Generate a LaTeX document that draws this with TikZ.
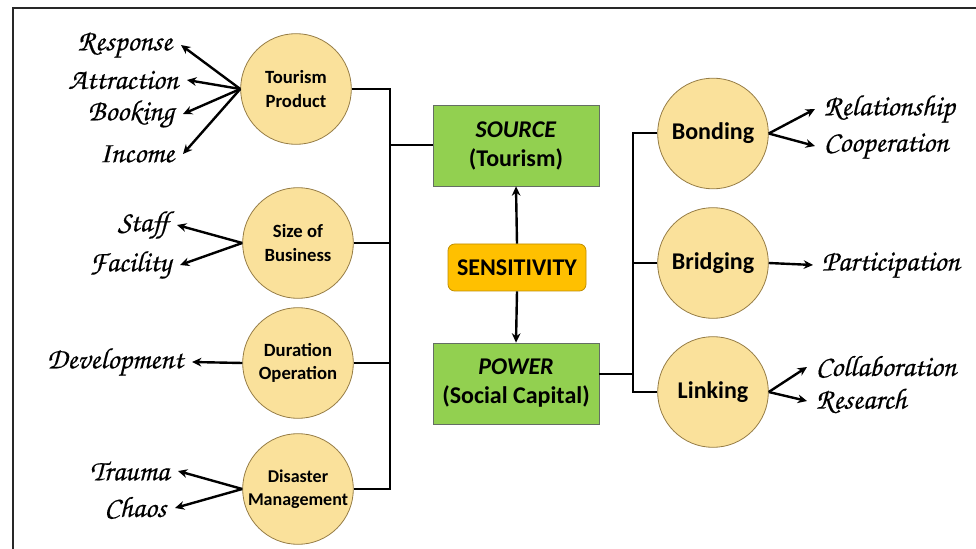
\documentclass[tikz,border=0pt]{standalone}
\usepackage{fontspec}
\setmainfont{Carlito}
\newfontfamily\scr[FakeBold=0.4]{TeX Gyre Chorus}
\usetikzlibrary{arrows.meta}

\definecolor{circfill}{RGB}{250,225,155}
\definecolor{circline}{RGB}{150,125,70}
\definecolor{boxgreen}{RGB}{146,208,80}
\definecolor{boxline}{RGB}{100,110,100}
\definecolor{sensfill}{RGB}{255,192,0}
\definecolor{sensline}{RGB}{190,140,0}
\definecolor{framecol}{RGB}{40,40,40}

\tikzset{
  circ/.style={circle, draw=circline, fill=circfill, line width=0.6pt,
    minimum size=83pt, inner sep=0pt, align=center,
    font=\bfseries\fontsize{14}{17.5}\selectfont},
  bigcirc/.style={circ, font=\bfseries\fontsize{18}{21}\selectfont},
  greenbox/.style={rectangle, draw=boxline, fill=boxgreen, line width=0.6pt,
    minimum width=124.5pt, minimum height=60.75pt, inner sep=0pt, align=center,
    font=\bfseries\fontsize{18}{21.75}\selectfont},
  sensbox/.style={rectangle, rounded corners=5pt, draw=sensline, fill=sensfill,
    line width=0.6pt, minimum width=103.5pt, minimum height=35.25pt, inner sep=0pt,
    font=\bfseries\fontsize{18}{21}\selectfont},
  lab/.style={inner xsep=6.5pt, inner ysep=0pt, font=\scr\fontsize{22}{24}\selectfont},
  llab/.style={lab, anchor=east},
  rlab/.style={lab, anchor=west},
  wire/.style={line width=1.5pt, black},
  arr/.style={line width=1.8pt, black, -{Stealth[length=7pt,width=6.5pt]}},
}

\begin{document}
\begin{tikzpicture}[x=0.75pt,y=-0.75pt]
\useasboundingbox (0,0) rectangle (976,549);

% open frame along the top and left edges
\draw[framecol, line width=1.5pt] (13,549) -- (13,8) -- (976,8);

% left column of factors
\node[circ] (tour) at (296,89) {Tourism\\Product};
\node[circ] (size) at (298,243) {Size of\\Business};
\node[circ] (dur)  at (298,363) {Duration\\Operation};
\node[circ, font=\bfseries\fontsize{13.5}{17}\selectfont] (dis) at (298,489) {Disaster\\Management};

% central boxes
\node[greenbox] (source) at (516,145.5) {\textit{SOURCE}\\(Tourism)};
\node[sensbox]  (sens)   at (517,267.5) {SENSITIVITY};
\node[greenbox] (power)  at (516,383.5) {\textit{POWER}\\(Social Capital)};

% right column of capital types
\node[bigcirc] (bond)   at (713,133.5) {Bonding};
\node[bigcirc] (bridge) at (713,263)   {Bridging};
\node[bigcirc] (link)   at (713,392)   {Linking};

% outcome labels, left
\node[llab] (resp)   at (181,45)  {Response};
\node[llab] (attr)   at (187,80)  {Attraction};
\node[llab] (book)   at (183,114) {Booking};
\node[llab] (inc)    at (183,154) {Income};
\node[llab] (staff)  at (177,225) {Staff};
\node[llab] (fac)    at (180,265) {Facility};
\node[llab] (dev)    at (192,362) {Development};
\node[llab] (trauma) at (178,471) {Trauma};
\node[llab] (chaos)  at (175,508) {Chaos};

% outcome labels, right
\node[rlab] (rel)  at (815,109) {Relationship};
\node[rlab] (coop) at (815,146) {Cooperation};
\node[rlab] (part) at (813,265) {Participation};
\node[rlab] (coll) at (807,367) {Collaboration};
\node[rlab] (res)  at (807,401) {Research};

% bus lines joining the factors to SOURCE
\coordinate (lbus) at (390,145.5);
\draw[wire] (tour.east) -| (lbus);
\draw[wire] (size.east) -| (lbus);
\draw[wire] (dur.east)  -| (lbus);
\draw[wire] (dis.east)  -| (lbus);
\draw[wire] (lbus) -- (source.west);

% bus lines joining POWER to the capital types
\coordinate (rbus) at (633,374);
\draw[wire] (rbus -| power.east) -- (rbus);
\draw[wire] (bond.west)   -| (rbus);
\draw[wire] (bridge.west) -| (rbus);
\draw[wire] (link.west)   -| (rbus);

% sensitivity links
\draw[arr] (sens.north) -- (source.south);
\draw[arr] (sens.south) -- (power.north);

% outcome arrows
\foreach \t in {resp,attr,book,inc} \draw[arr] (tour.west) -- (\t.east);
\foreach \t in {staff,fac} \draw[arr] (size.west) -- (\t.east);
\draw[arr] (dur.west) -- (dev.east);
\foreach \t in {trauma,chaos} \draw[arr] (dis.west) -- (\t.east);
\foreach \t in {rel,coop} \draw[arr] (bond.east) -- (\t.west);
\draw[arr] (bridge.east) -- (part.west);
\foreach \t in {coll,res} \draw[arr] (link.east) -- (\t.west);
\end{tikzpicture}
\end{document}
